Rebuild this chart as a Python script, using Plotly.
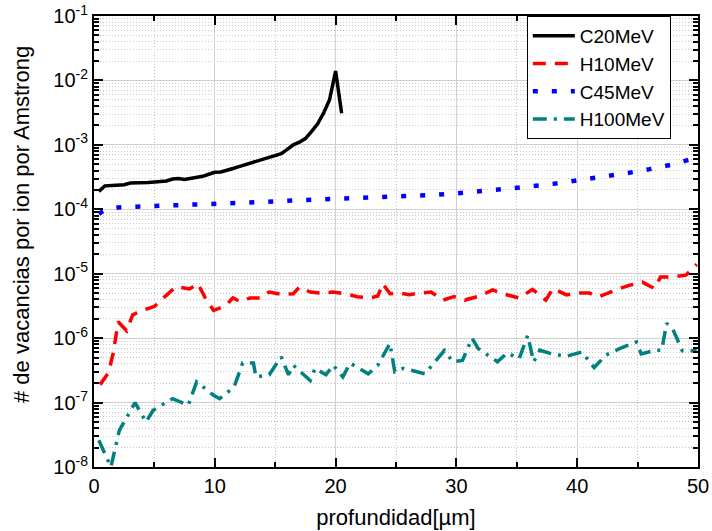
import plotly.graph_objects as go

# ---------------- data ----------------
c20_x = [0.4, 0.9, 1.5, 2.0, 2.5, 3.0, 3.5, 4.0, 4.5, 5.0, 5.5, 6.0, 6.5, 7.0, 7.5, 8.0, 8.5, 9.0, 9.5, 10.0,
         10.5, 11.0, 11.5, 12.0, 12.5, 13.0, 13.5, 14.0, 14.5, 15.0, 15.5, 16.0, 16.5, 17.0, 17.5, 18.0, 18.5,
         19.0, 19.5, 20.0, 20.5]
c20_y = [1.9e-4, 2.3e-4, 2.35e-4, 2.35e-4, 2.4e-4, 2.55e-4, 2.55e-4, 2.55e-4, 2.6e-4, 2.65e-4, 2.7e-4, 2.75e-4,
         2.95e-4, 3.0e-4, 2.9e-4, 3.0e-4, 3.1e-4, 3.25e-4, 3.5e-4, 3.75e-4, 3.8e-4, 4.1e-4, 4.3e-4, 4.6e-4,
         4.9e-4, 5.3e-4, 5.6e-4, 6.0e-4, 6.4e-4, 6.8e-4, 7.3e-4, 8.5e-4, 1.0e-3, 1.1e-3, 1.25e-3, 1.6e-3,
         2.1e-3, 3.1e-3, 5.0e-3, 1.4e-2, 3.1e-3]

h10_x = [0.5, 1.2, 1.6, 2.0, 2.7, 3.2, 4.0, 5.0, 5.8, 6.8, 7.9, 8.6, 9.3, 9.9, 10.9, 11.5, 12.1, 12.9, 13.8,
         14.5, 15.5, 16.5, 17.0, 17.9, 18.8, 19.8, 20.7, 21.8, 22.8, 23.5, 23.9, 24.5, 25.3, 26.1, 26.9, 27.9,
         28.9, 29.8, 30.7, 31.9, 33.0, 33.8, 35.2, 36.3, 37.4, 38.0, 39.1, 40.2, 41.0, 41.8, 43.2, 44.3, 45.4,
         46.4, 46.9, 47.9, 49.0, 49.9]
h10_y = [1.9e-7, 2.9e-7, 6.0e-7, 1.8e-6, 1.3e-6, 2.3e-6, 2.7e-6, 3.1e-6, 4.3e-6, 6.3e-6, 5.8e-6, 7.0e-6,
         3.9e-6, 2.7e-6, 3.2e-6, 4.2e-6, 3.7e-6, 4.2e-6, 4.2e-6, 5.2e-6, 4.8e-6, 4.9e-6, 6.2e-6, 5.2e-6,
         5.0e-6, 5.2e-6, 4.9e-6, 4.4e-6, 4.2e-6, 4.5e-6, 7.0e-6, 4.9e-6, 5.0e-6, 4.7e-6, 5.0e-6, 5.2e-6,
         3.9e-6, 4.4e-6, 3.9e-6, 4.5e-6, 5.6e-6, 4.9e-6, 4.2e-6, 5.7e-6, 3.9e-6, 5.9e-6, 4.7e-6, 5.0e-6,
         5.0e-6, 4.4e-6, 5.6e-6, 6.6e-6, 7.4e-6, 5.9e-6, 8.9e-6, 8.9e-6, 9.5e-6, 1.4e-5]

c45_x = [0.4, 1.0, 2.0, 4.0, 6.0, 8.0, 10.0, 12.0, 14.0, 16.0, 18.0, 20.0, 22.0, 24.0, 26.0, 28.0, 30.0,
         32.0, 34.0, 36.0, 38.0, 40.0, 42.0, 44.0, 46.0, 48.0, 50.0]
c45_y = [8.5e-5, 1.0e-4, 1.07e-4, 1.1e-4, 1.13e-4, 1.16e-4, 1.2e-4, 1.25e-4, 1.3e-4, 1.36e-4, 1.4e-4,
         1.43e-4, 1.47e-4, 1.52e-4, 1.58e-4, 1.66e-4, 1.77e-4, 1.9e-4, 2.05e-4, 2.25e-4, 2.48e-4, 2.8e-4,
         3.1e-4, 3.6e-4, 4.2e-4, 5.0e-4, 6.5e-4]

h100_x = [0.4, 1.4, 2.1, 3.4, 4.3, 4.9, 6.5, 7.8, 8.5, 9.9, 10.4, 11.6, 12.3, 13.2, 13.4, 14.5, 15.5, 16.1,
          16.5, 17.9, 18.3, 19.2, 19.8, 20.6, 21.2, 22.7, 23.5, 24.5, 24.9, 25.6, 27.4, 29.0, 29.7, 30.5,
          31.3, 31.8, 33.4, 34.2, 35.2, 35.9, 36.4, 36.9, 38.2, 39.2, 40.4, 41.4, 42.4, 43.6, 44.9, 45.3,
          46.5, 47.0, 47.4, 47.9, 48.7, 49.9]
h100_y = [2.6e-8, 1.0e-8, 3.7e-8, 1.0e-7, 5.0e-8, 7.6e-8, 1.15e-7, 9.1e-8, 2.1e-7, 1.3e-7, 1.15e-7, 1.75e-7,
          4.1e-7, 4.1e-7, 2.5e-7, 2.7e-7, 5.1e-7, 2.7e-7, 3.8e-7, 2.2e-7, 3.4e-7, 2.7e-7, 3.8e-7, 2.5e-7,
          4.1e-7, 2.8e-7, 3.8e-7, 8.3e-7, 3.0e-7, 3.4e-7, 2.8e-7, 6.4e-7, 4.3e-7, 4.5e-7, 1.0e-6, 6.9e-7,
          4.3e-7, 5.9e-7, 4.8e-7, 1.1e-6, 4.3e-7, 6.5e-7, 5.5e-7, 5.3e-7, 6.1e-7, 3.5e-7, 5.5e-7, 7.0e-7,
          8.7e-7, 5.7e-7, 6.5e-7, 6.5e-7, 1.7e-6, 1.4e-6, 6.4e-7, 6.4e-7]

y_tickvals = [1e-8, 1e-7, 1e-6, 1e-5, 1e-4, 1e-3, 1e-2, 1e-1]
y_ticktext = ["10<sup>-8</sup>", "10<sup>-7</sup>", "10<sup>-6</sup>", "10<sup>-5</sup>",
              "10<sup>-4</sup>", "10<sup>-3</sup>", "10<sup>-2</sup>", "10<sup>-1</sup>"]
x_tickvals = [0, 10, 20, 30, 40, 50]
y_title = "# de vacancias por ion por Amstrong"
x_title = "profundidad[µm]"

# ---------------- figure ----------------
FONT = "Liberation Sans, Arial, sans-serif"
fig = go.Figure()
fig.add_trace(go.Scatter(x=c20_x, y=c20_y, mode="lines", name="C20MeV",
                         line=dict(color="black", width=3.5)))
fig.add_trace(go.Scatter(x=h10_x, y=h10_y, mode="lines", name="H10MeV",
                         line=dict(color="#ff0000", width=3.5, dash="13px,9px")))
fig.add_trace(go.Scatter(x=c45_x, y=c45_y, mode="lines", name="C45MeV",
                         line=dict(color="#0000ff", width=4.5, dash="5px,14px")))
fig.add_trace(go.Scatter(x=h100_x, y=h100_y, mode="lines", name="H100MeV",
                         line=dict(color="#008080", width=3.5, dash="14px,7px,3px,7px")))

fig.update_layout(
    width=712, height=531,
    margin=dict(l=94, r=14, t=16, b=64, autoexpand=False),
    paper_bgcolor="white", plot_bgcolor="white",
    font=dict(family=FONT, size=20, color="black"),
    showlegend=True,
    legend=dict(x=0.955, y=1.0, xanchor="right", yanchor="top",
                bgcolor="white", bordercolor="black", borderwidth=1,
                font=dict(size=19), tracegroupgap=0, itemwidth=42),
    annotations=[dict(text=y_title, textangle=-90, xref="paper", yref="paper",
                      x=-0.1209, y=0.5388, xanchor="center", yanchor="middle",
                      showarrow=False, font=dict(size=22))],
)
fig.update_xaxes(
    range=[0, 50], tickvals=x_tickvals, ticks="inside", ticklen=9, tickwidth=1.5, tickcolor="black",
    showline=True, linecolor="black", linewidth=2, mirror="ticks",
    showgrid=True, gridcolor="#d0d0d0", gridwidth=1,
    minor=dict(dtick=5, tick0=0, ticks="inside", ticklen=5, tickcolor="black",
               showgrid=True, gridcolor="#c8c8c8", griddash="1px,2px", gridwidth=1),
    zeroline=False, automargin=False,
    title=dict(text=x_title, font=dict(size=22), standoff=14),
    tickfont=dict(size=20),
)
fig.update_yaxes(
    type="log", range=[-8, -1], tickvals=y_tickvals, ticktext=y_ticktext,
    ticks="inside", ticklen=9, tickwidth=1.5, tickcolor="black",
    showline=True, linecolor="black", linewidth=2, mirror="ticks",
    showgrid=True, gridcolor="#d0d0d0", gridwidth=1,
    minor=dict(dtick="D1", ticks="inside", ticklen=5, tickcolor="black",
               showgrid=True, gridcolor="#c8c8c8", griddash="1px,2px", gridwidth=1),
    zeroline=False, automargin=False,
    tickfont=dict(size=20),
)

fig.write_html("out.html")
